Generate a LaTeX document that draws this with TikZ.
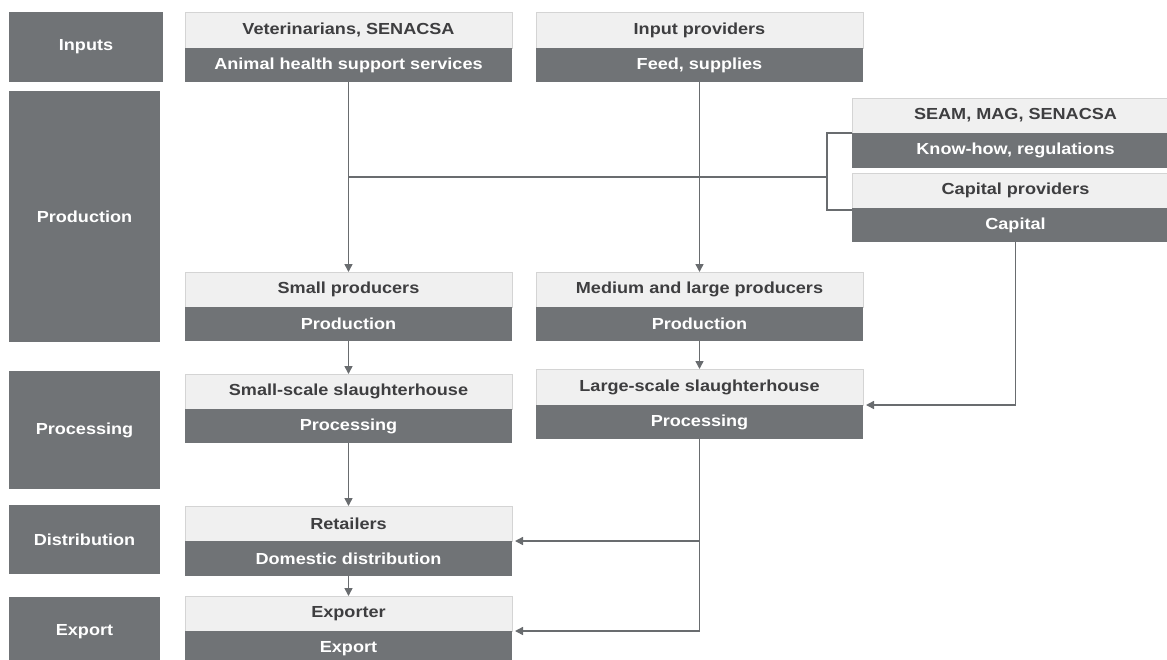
\documentclass[tikz,border=0pt]{standalone}
\usepackage{fontspec}
\newfontfamily\dfont{Liberation Sans}[FakeStretch=1.13]
\usetikzlibrary{arrows.meta}
\definecolor{darkband}{RGB}{112,115,118}
\definecolor{lightband}{RGB}{240,240,240}
\definecolor{edgegray}{RGB}{212,212,212}
\definecolor{inktext}{RGB}{62,62,64}
\definecolor{linegray}{RGB}{105,108,111}

\begin{document}
\begin{tikzpicture}[x=1pt,y=-1pt,
  every node/.style={inner sep=0pt, outer sep=0pt,
    font=\dfont\bfseries\fontsize{16}{19}\selectfont},
  stage/.style={fill=darkband, text=white, anchor=north west, minimum width=151pt},
  head/.style={fill=lightband, draw=edgegray, line width=0.8pt, text=inktext,
    anchor=north west, minimum width=327pt},
  body/.style={fill=darkband, text=white, anchor=north west, minimum width=327pt},
  flow/.style={draw=linegray, line width=1.5pt},
  tip/.style={-{Triangle[length=8pt,width=8pt]}}
]
\useasboundingbox (0,0) rectangle (1167,659);
\clip (0,0) rectangle (1167,659);

% stage column
\node[stage, minimum width=154pt, minimum height=70pt] (sInputs) at (9,12) {Inputs};
\node[stage, minimum height=251pt] (sProd) at (9,91) {Production};
\node[stage, minimum height=118pt] (sProc) at (9,371) {Processing};
\node[stage, minimum height=69pt] (sDist) at (9,505) {Distribution};
\node[stage, minimum height=70pt] (sExp) at (9,597) {Export};

% actors and their activities
\node[head, minimum height=36pt] (vetH) at (185,12) {Veterinarians, SENACSA};
\node[body, minimum height=34pt] (vetB) at (vetH.south west) {Animal health support services};

\node[head, minimum height=36pt] (inpH) at (536,12) {Input providers};
\node[body, minimum height=34pt] (inpB) at (inpH.south west) {Feed, supplies};

\node[head, minimum height=35pt] (seamH) at (852,98) {SEAM, MAG, SENACSA};
\node[body, minimum height=35pt] (seamB) at (seamH.south west) {Know-how, regulations};

\node[head, minimum height=35pt] (capH) at (852,173) {Capital providers};
\node[body, minimum height=34pt] (capB) at (capH.south west) {Capital};

\node[head, minimum height=35pt] (smallH) at (185,272) {Small producers};
\node[body, minimum height=34pt] (smallB) at (smallH.south west) {Production};

\node[head, minimum height=35pt] (medH) at (536,272) {Medium and large producers};
\node[body, minimum height=34pt] (medB) at (medH.south west) {Production};

\node[head, minimum height=35pt] (sssH) at (185,374) {Small-scale slaughterhouse};
\node[body, minimum height=34pt] (sssB) at (sssH.south west) {Processing};

\node[head, minimum height=36pt] (lssH) at (536,369) {Large-scale slaughterhouse};
\node[body, minimum height=34pt] (lssB) at (lssH.south west) {Processing};

\node[head, minimum height=35pt] (retH) at (185,506) {Retailers};
\node[body, minimum height=35pt] (retB) at (retH.south west) {Domestic distribution};

\node[head, minimum height=35pt] (expH) at (185,596) {Exporter};
\node[body, minimum height=36pt] (expB) at (expH.south west) {Export};

% connectors
\coordinate (bus) at (827,177);
\coordinate (brT) at (827,133);
\coordinate (brB) at (827,210);
\draw[flow] (vetB.south) |- (bus);
\draw[flow] (seamB.north west) -- (brT) -- (brB) -- (capB.north west |- brB);
\draw[flow,tip] (vetB.south |- bus) -- (smallH.north);
\draw[flow,tip] (inpB.south) -- (medH.north);
\draw[flow,tip] (smallB.south) -- (sssH.north);
\draw[flow,tip] (medB.south) -- (lssH.north);
\draw[flow,tip] (sssB.south) -- (retH.north);
\draw[flow,tip] (retB.south) -- (expH.north);
\draw[flow,tip,shorten >=3pt] (capB.south) |- (lssB.north east);
\draw[flow,tip,shorten >=3pt] (lssB.south) |- (expB.north east);
\draw[flow,tip,shorten >=3pt] (lssB.south |- retB.north east) -- (retB.north east);
\end{tikzpicture}
\end{document}
